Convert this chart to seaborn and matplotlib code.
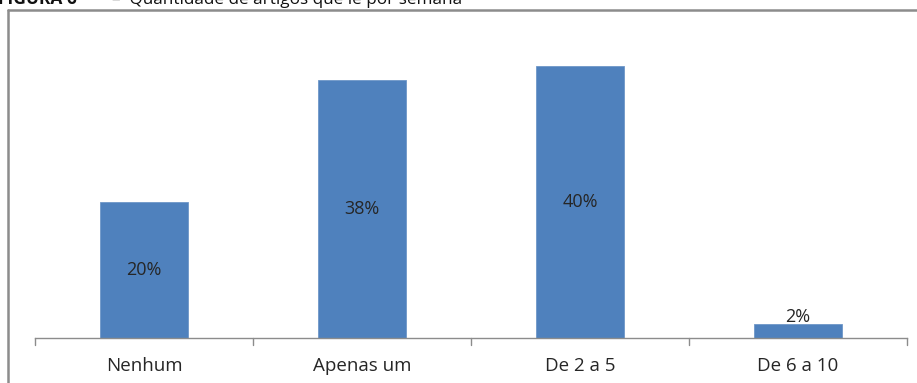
import matplotlib
matplotlib.use("Agg")
import matplotlib.pyplot as plt
from matplotlib.lines import Line2D
import seaborn as sns
import pandas as pd

categories = ["Nenhum", "Apenas um", "De 2 a 5", "De 6 a 10"]
values = [20, 38, 40, 2]
labels = ["20%", "38%", "40%", "2%"]

sns.set_theme(style="white")
plt.rcParams["font.family"] = ["Open Sans", "DejaVu Sans"]

W, H = 917, 383
fig = plt.figure(figsize=(W / 100, H / 100), dpi=100)
ax = fig.add_axes([35 / W, 1 - 338 / H, 872 / W, 299 / H])

df = pd.DataFrame({"cat": categories, "val": values})
sns.barplot(data=df, x="cat", y="val", color="#4f81bd", width=0.4,
            edgecolor="#6e97c8", linewidth=0.6, saturation=1, ax=ax)

ax.set_ylim(0, 44)
ax.set_xlim(-0.5, len(categories) - 0.5)
ax.set_xlabel("")
ax.set_ylabel("")
ax.set_yticks([])
for s in ["left", "right", "top"]:
    ax.spines[s].set_visible(False)
ax.spines["bottom"].set_color("#8c8c8c")
ax.spines["bottom"].set_linewidth(1.0)

# category boundary ticks
for b in [-0.5, 0.5, 1.5, 2.5, 3.5]:
    ax.plot([b, b], [0, -0.022 * 44], color="#8c8c8c", lw=1.0, clip_on=False)
ax.tick_params(axis="x", length=0, pad=14, labelsize=13.5, labelcolor="#262626")

# value labels: inside the bar for tall bars, above for the short one
for i, (v, t) in enumerate(zip(values, labels)):
    if v < 5:
        ax.annotate(t, (i, v), xytext=(0, -1), textcoords="offset points",
                    ha="center", va="bottom", fontsize=13, color="#262626")
    else:
        ax.text(i, v / 2, t, ha="center", va="center", fontsize=13, color="#262626")

# outer frame (left and top edges)
fig.add_artist(Line2D([8 / W, 8 / W], [0, 1 - 10 / H], transform=fig.transFigure,
                      color="#8c8c8c", lw=1.8))
fig.add_artist(Line2D([8 / W, 1], [1 - 10 / H, 1 - 10 / H], transform=fig.transFigure,
                      color="#8c8c8c", lw=1.8))

# caption, clipped at the top edge
fig.text(-2 / W, 1 - 4 / H, "FIGURA 6", fontsize=12.5, fontweight="bold",
         ha="left", va="baseline", color="#111111")
fig.text(112 / W, 1 - 4 / H, "–  Quantidade de artigos que lê por semana", fontsize=12.3,
         ha="left", va="baseline", color="#111111")

fig.savefig("out.png", dpi=100)
